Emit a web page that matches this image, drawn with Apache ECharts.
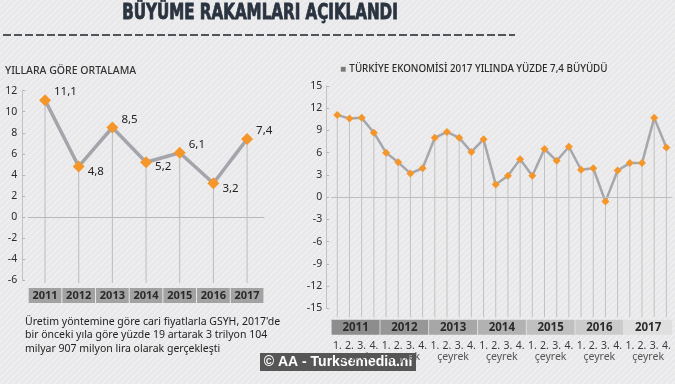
<!DOCTYPE html>
<html><head><meta charset="utf-8">
<script src="https://cdn.jsdelivr.net/npm/echarts@6/dist/echarts.min.js"></script>
<style>html,body{margin:0;padding:0;background:#eaeaec}#c{width:675px;height:384px}</style>
</head><body><div id="c"></div>
<script>
// ---- data ----
const years = ['2011', '2012', '2013', '2014', '2015', '2016', '2017'];
const annualGrowth = [11.1, 4.8, 8.5, 5.2, 6.1, 3.2, 7.4];
const quarterLabels = ['1.', '2.', '3.', '4.'];
const quarterlyGrowth = [
  11.1, 10.6, 10.7, 8.7,
  6.0, 4.7, 3.2, 3.9,
  8.0, 8.8, 8.0, 6.1,
  7.8, 1.7, 2.9, 5.1,
  2.9, 6.5, 4.9, 6.8,
  3.7, 3.9, -0.6, 3.6,
  4.6, 4.6, 10.7, 6.7
];
const leftAxis = { min: -6, max: 12, interval: 2 };
const rightAxis = { min: -15, max: 15, interval: 3 };
const quarterWord = 'çeyrek';

// ---- styles ----
const labelAbove = [true, false, true, false, true, false, true];
const bandColors = ['#8d8d8d', '#979797', '#a7a7a7', '#b2b2b2', '#c0c0c0', '#cbcbcb', '#dfdfdf'];
const FONT = '"Noto Sans", "Open Sans", sans-serif';

const quarterCats = [];
years.forEach(y => quarterLabels.forEach(q => quarterCats.push(y + '|' + q)));

// background stripes
const pat = document.createElement('canvas');
pat.width = 6; pat.height = 6;
const pc = pat.getContext('2d');
pc.fillStyle = '#e8e8ea'; pc.fillRect(0, 0, 6, 6);
pc.strokeStyle = '#f0f0f1'; pc.lineWidth = 1.4;
pc.beginPath(); pc.moveTo(0, 6); pc.lineTo(6, 0); pc.moveTo(-1, 1); pc.lineTo(1, -1); pc.moveTo(5, 7); pc.lineTo(7, 5); pc.stroke();

function dropLines(yMin, color, extra) {
  return function (params, api) {
    const top = api.coord([api.value(0), api.value(1)]);
    const bot = api.coord([api.value(0), yMin]);
    return { type: 'line', shape: { x1: top[0], y1: top[1], x2: bot[0], y2: bot[1] + extra },
      style: { stroke: color, lineWidth: 1 } };
  };
}

const bandRich = {};
bandColors.forEach((c, i) => {
  bandRich['b' + i] = { backgroundColor: c, width: 48, height: 15, lineHeight: 15, align: 'center',
    color: '#2b2b2b', fontWeight: 'bold', fontSize: 11.5, fontFamily: FONT };
});

const chart = echarts.init(document.getElementById('c'), null, { renderer: 'canvas' });
chart.setOption({
  animation: false,
  backgroundColor: { image: pat, repeat: 'repeat' },
  grid: [
    { left: 28.2, top: 90.7, width: 235.7, height: 189.3 },
    { left: 331.2, top: 86, width: 342.7, height: 222.3 }
  ],
  xAxis: [
    { gridIndex: 0, type: 'category', data: years,
      axisLine: { onZero: true, lineStyle: { color: '#b8b8b8', width: 1 } },
      axisTick: { show: false }, axisLabel: { show: false }, splitLine: { show: false } },
    { gridIndex: 0, type: 'category', data: years, position: 'bottom',
      axisLine: { show: false, onZero: false }, axisTick: { show: false },
      axisLabel: { interval: 0, margin: 8, backgroundColor: '#a2a2a2', width: 32.7, height: 15, lineHeight: 15,
        align: 'center', color: '#2a2a2a', fontWeight: 'bold', fontSize: 11, fontFamily: FONT } },
    { gridIndex: 1, type: 'category', data: quarterCats, position: 'bottom',
      axisLine: { show: false, onZero: false }, axisTick: { show: false },
      axisLabel: { interval: 0, margin: 32, formatter: v => v.split('|')[1],
        color: '#3a3a3a', fontSize: 10.5, fontFamily: FONT } },
    { gridIndex: 1, type: 'category', data: years, position: 'bottom',
      axisLine: { show: false, onZero: false }, axisTick: { show: false },
      axisLabel: { interval: 0, margin: 11.5, formatter: (v, i) => '{b' + i + '|' + v + '}', rich: bandRich } },
    { gridIndex: 1, type: 'category', data: years, position: 'bottom',
      axisLine: { show: false, onZero: false }, axisTick: { show: false },
      axisLabel: { interval: 0, margin: 43, formatter: () => quarterWord, color: '#555', fontSize: 10.5, fontFamily: FONT } }
  ],
  yAxis: [
    { gridIndex: 0, type: 'value', min: leftAxis.min, max: leftAxis.max, interval: leftAxis.interval, offset: 6,
      axisLine: { show: true, lineStyle: { color: '#c2c2c2' } },
      axisTick: { show: true, inside: true, length: 3, lineStyle: { color: '#b5b5b5' } },
      axisLabel: { margin: 5, color: '#2b2b2b', fontSize: 10.5, fontFamily: FONT },
      splitLine: { show: false } },
    { gridIndex: 1, type: 'value', min: rightAxis.min, max: rightAxis.max, interval: rightAxis.interval, offset: 5,
      axisLine: { show: true, lineStyle: { color: '#c2c2c2' } },
      axisTick: { show: true, inside: true, length: 3, lineStyle: { color: '#b5b5b5' } },
      axisLabel: { margin: 4, color: '#2b2b2b', fontSize: 10.5, fontFamily: FONT },
      splitLine: { show: false } }
  ],
  series: [
    { type: 'custom', xAxisIndex: 0, yAxisIndex: 0, z: 1, silent: true,
      renderItem: dropLines(leftAxis.min, '#bcbcbc', 3),
      data: annualGrowth.map((v, i) => [i, v]) },
    { type: 'line', xAxisIndex: 0, yAxisIndex: 0, z: 3,
      data: annualGrowth.map((v, i) => ({ value: v, label: { offset: [0, labelAbove[i] ? -8 : 5] } })),
      lineStyle: { color: '#a3a5ab', width: 3.5 },
      symbol: 'diamond', symbolSize: 12, itemStyle: { color: '#f5962a' },
      label: { show: true, position: 'right', distance: 3, color: '#222', fontSize: 11.5, fontFamily: FONT,
        formatter: p => p.value.toFixed(1).replace('.', ',') } },
    { type: 'custom', xAxisIndex: 2, yAxisIndex: 1, z: 1, silent: true,
      renderItem: dropLines(rightAxis.min, '#c2c2c2', 9),
      data: quarterlyGrowth.map((v, i) => [i, v]) },
    { type: 'line', xAxisIndex: 2, yAxisIndex: 1, z: 3,
      data: quarterlyGrowth,
      lineStyle: { color: '#a5a7ad', width: 2.5 },
      symbol: 'diamond', symbolSize: 8, itemStyle: { color: '#f5962a' },
      markLine: { silent: true, symbol: ['none', 'none'], label: { show: false },
        lineStyle: { color: '#bdbdbd', width: 1, type: 'solid' }, data: [{ yAxis: 0 }] } }
  ],
  graphic: [
    { type: 'text', x: 260, y: 14, z: 10, scaleX: 0.8,
      style: { text: 'BÜYÜME RAKAMLARI AÇIKLANDI', align: 'center', verticalAlign: 'middle',
        fill: '#2a3440', font: '900 21px "DejaVu Sans Condensed", "DejaVu Sans", sans-serif',
        stroke: '#2a3440', lineWidth: 0.8 } },
    { type: 'line', z: 10, shape: { x1: 3, y1: 35, x2: 515, y2: 35 },
      style: { stroke: '#50555c', lineWidth: 2, lineDash: [8, 3] } },
    { type: 'text', x: 5, y: 71, z: 10,
      style: { text: 'YILLARA GÖRE ORTALAMA', verticalAlign: 'middle', fill: '#333',
        font: '500 10.5px "Noto Sans", sans-serif' } },
    { type: 'text', x: 340, y: 69.5, z: 10,
      style: { text: '{s|■} {t|TÜRKİYE EKONOMİSİ 2017 YILINDA YÜZDE 7,4 BÜYÜDÜ}', verticalAlign: 'middle',
        rich: { s: { fill: '#7a7a7a', fontSize: 10, fontFamily: FONT },
                t: { fill: '#2b2b2b', fontSize: 9.8, fontWeight: 500, fontFamily: FONT } } } },
    { type: 'text', x: 25, y: 315, z: 10,
      style: { text: "Üretim yöntemine göre cari fiyatlarla GSYH, 2017'de\nbir önceki yıla göre yüzde 19 artarak 3 trilyon 104\nmilyar 907 milyon lira olarak gerçekleşti",
        fill: '#222', font: '10.5px "Noto Sans", sans-serif', lineHeight: 13.5 } },
    { type: 'group', z: 20, children: [
      { type: 'rect', shape: { x: 260, y: 353, width: 156, height: 18 }, style: { fill: 'rgba(70,70,70,0.9)' } },
      { type: 'text', x: 338, y: 362.5,
        style: { text: '© AA - Turksemedia.nl', align: 'center', verticalAlign: 'middle', fill: '#fff',
          font: 'bold 14px "Liberation Sans", Arial, sans-serif' } }
    ] }
  ]
});
</script>
</body></html>
